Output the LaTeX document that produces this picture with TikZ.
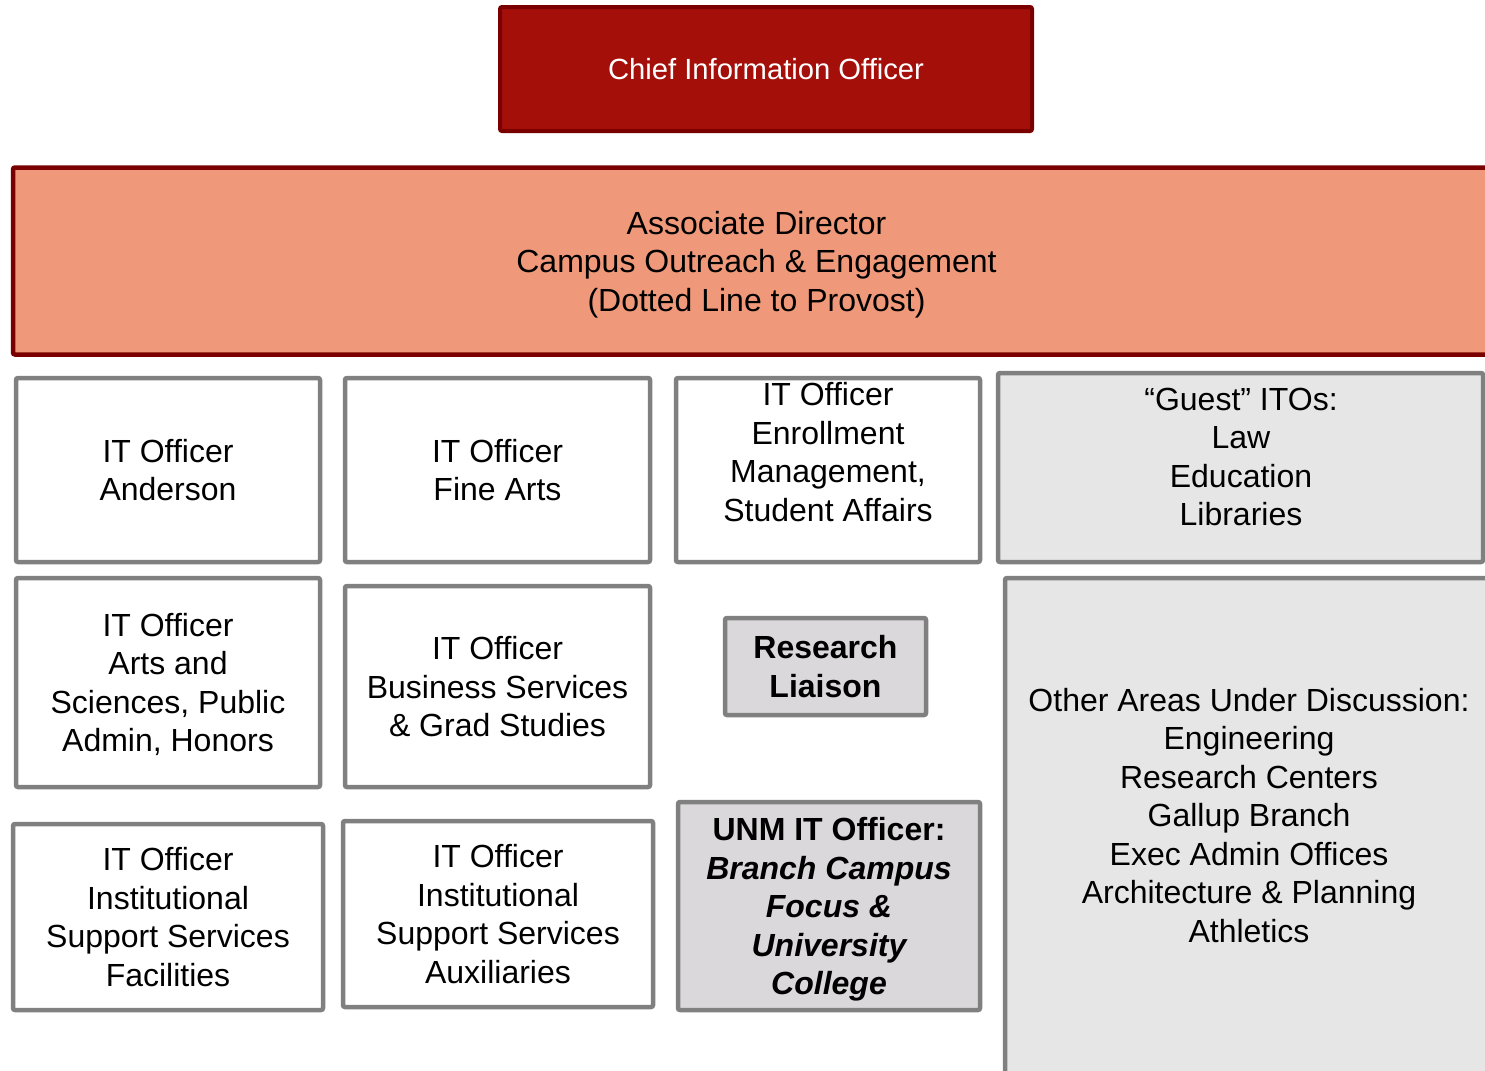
\documentclass[tikz,border=0pt]{standalone}
\usepackage{fontspec}
\setmainfont{Liberation Sans}
\definecolor{cioRed}{RGB}{165,15,10}
\definecolor{cioBorder}{RGB}{122,0,0}
\definecolor{assocFill}{RGB}{239,153,122}
\definecolor{boxGray}{RGB}{128,128,128}
\definecolor{guestFill}{RGB}{230,230,230}
\definecolor{liaisonFill}{RGB}{218,216,218}

\tikzset{
	orgbox/.style={draw=boxGray, line width=2.25pt, rounded corners=1pt, align=center, inner sep=0pt, text depth=0pt, font=\fontsize{16}{19.25}\selectfont},
	itbox/.style={orgbox, fill=white},
	guestbox/.style={orgbox, fill=guestFill},
	liaisonbox/.style={orgbox, fill=liaisonFill, font=\fontsize{16}{19.25}\selectfont\bfseries},
	orgtext/.style={align=center, inner sep=0pt, font=\fontsize{16}{19.25}\selectfont}
}

\begin{document}
\begin{tikzpicture}[x=0.5pt,y=-0.5pt]
			\clip (0,0) rectangle (1485,1071);
			\fill[white] (0,0) rectangle (1485,1071);

			% top of the chart
			\node[draw=cioBorder, fill=cioRed, line width=2pt, rounded corners=1pt, text=white, minimum width=266pt, minimum height=62pt, font=\fontsize{14.6}{17.5}\selectfont] (cio) at (766,69) {Chief Information Officer};
			\node[draw=cioBorder, fill=assocFill, line width=2.25pt, rounded corners=1pt, align=center, inner sep=0pt, text depth=0pt, minimum width=743.5pt, minimum height=93.5pt, font=\fontsize{16}{19.25}\selectfont] (assoc) at (756.5,261) {Associate Director\\Campus Outreach \& Engagement\\(Dotted Line to Provost)};

			% first row
			\node[itbox, minimum width=152pt, minimum height=92pt] (anderson) at (168,470) {IT Officer\\Anderson};
			\node[itbox, minimum width=152.5pt, minimum height=92pt] (finearts) at (497.5,470) {IT Officer\\Fine Arts};
			\node[itbox, minimum width=152pt, minimum height=92pt] (enroll) at (828,470) {};
			\node[orgtext] (enrollText) at (828,452) {IT Officer\\Enrollment\\Management,\\Student Affairs};
			\node[guestbox, minimum width=242.5pt, minimum height=94.5pt] (guest) at (1240.5,467.5) {};
			\node[orgtext] (guestText) at (1241,457) {“Guest” ITOs:\\Law\\Education\\Libraries};

			% second row
			\node[itbox, minimum width=152pt, minimum height=104.5pt] (artsci) at (168,682.5) {IT Officer\\Arts and\\Sciences, Public\\Admin, Honors};
			\node[itbox, minimum width=152.5pt, minimum height=100.5pt] (business) at (497.5,686.5) {IT Officer\\Business Services\\\& Grad Studies};
			\node[liaisonbox, minimum width=100.5pt, minimum height=48.5pt] (liaison) at (825.5,666.5) {Research\\Liaison};
			\node[guestbox, minimum width=244pt, minimum height=261pt] (other) at (1249,839) {};
			\node[orgtext] (otherText) at (1249,815.5) {Other Areas Under Discussion:\\Engineering\\Research Centers\\Gallup Branch\\Exec Admin Offices\\Architecture \& Planning\\Athletics};

			% third row
			\node[itbox, minimum width=155pt, minimum height=93pt] (facilities) at (168,917) {IT Officer\\Institutional\\Support Services\\Facilities};
			\node[itbox, minimum width=155pt, minimum height=93pt] (auxiliaries) at (498,914) {IT Officer\\Institutional\\Support Services\\Auxiliaries};
			\node[liaisonbox, minimum width=151pt, minimum height=104pt] (branch) at (829,906) {UNM IT Officer:\\\itshape Branch Campus\\\itshape Focus \&\\\itshape University\\\itshape College};
		\end{tikzpicture}
\end{document}
